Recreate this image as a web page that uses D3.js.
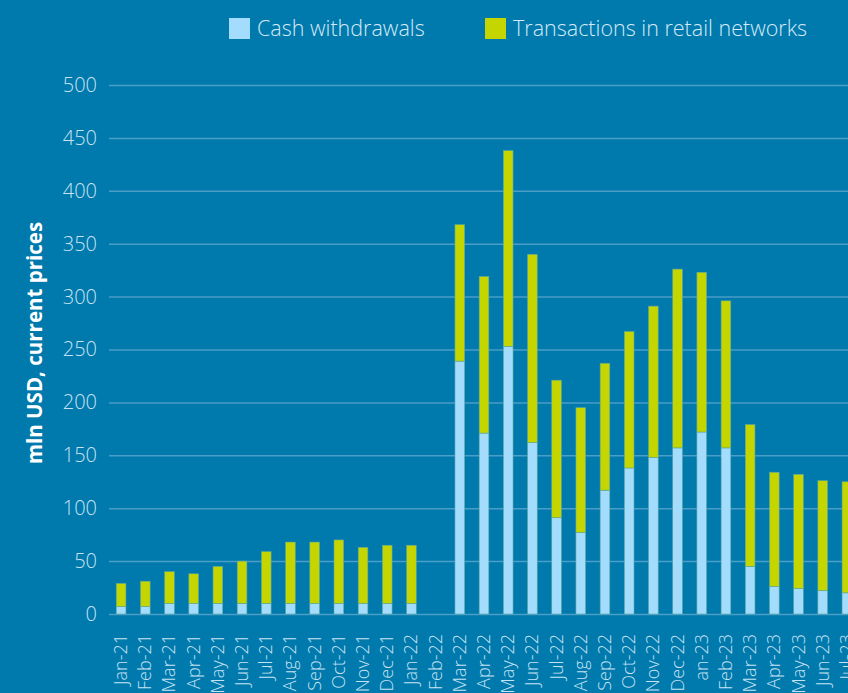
<!DOCTYPE html>
<html>
<head>
<meta charset="utf-8">
<script src="https://cdn.jsdelivr.net/npm/d3@7"></script>
<style>
  body { margin: 0; background: #0079ad; overflow: hidden; }
  svg { display: block; font-family: 'Open Sans', sans-serif; }
</style>
</head>
<body>
<svg width="848" height="693"></svg>
<script>

let months = ['Jan-21','Feb-21','Mar-21','Apr-21','May-21','Jun-21','Jul-21','Aug-21','Sep-21','Oct-21','Nov-21','Dec-21',
              'Jan-22','Feb-22','Mar-22','Apr-22','May-22','Jun-22','Jul-22','Aug-22','Sep-22','Oct-22','Nov-22','Dec-22',
              'an-23','Feb-23','Mar-23','Apr-23','May-23','Jun-23','Jul-23'];

let cash = [7, 7, 10, 10, 10, 10, 10, 10, 10, 10, 10, 10,
            10, 0, 239, 171, 253, 162, 91, 77, 117, 138, 148, 157,
            172, 157, 45, 26, 24, 22, 20];

let retail = [22, 24, 30, 28, 35, 40, 49, 58, 58, 60, 53, 55,
              55, 0, 129, 148, 185, 178, 130, 118, 120, 129, 143, 169,
              151, 139, 134, 108, 108, 104, 105];

let yTicks = [0, 50, 100, 150, 200, 250, 300, 350, 400, 450, 500];

let seriesNames = ['Cash withdrawals', 'Transactions in retail networks'];
let colors = ['#a3dcfd', '#c5d500'];

let data = months.map(function(m, i) {
  return { month: m, cash: cash[i], retail: retail[i] };
});

let svg = d3.select('svg');

let xScale = d3.scaleBand()
               .domain(months)
               .range([109, 859])
               .paddingInner(0.6)
               .paddingOuter(0.3);

let yScale = d3.scaleLinear()
               .domain([0, 500])
               .range([614, 85]);

// grid + y labels
let yAxis = d3.axisLeft(yScale)
              .tickValues(yTicks)
              .tickSize(-(859 - 109))
              .tickPadding(12);

let yAxisG = svg.append('g')
                .attr('transform', 'translate(109,0)')
                .call(yAxis)
                .attr('font-family', null)
                .attr('font-size', null);

yAxisG.select('.domain').remove();
yAxisG.selectAll('.tick line')
      .attr('stroke', '#4a9ec8')
      .attr('stroke-width', 1.5);
yAxisG.selectAll('.tick text')
      .attr('fill', '#c6e3f3')
      .attr('font-size', 20)
      .attr('font-weight', 300);

// bars
let stack = d3.stack().keys(['cash', 'retail']);
let layers = stack(data);

svg.selectAll('g.layer')
   .data(layers)
   .join('g')
   .attr('class', 'layer')
   .attr('fill', function(d, i) { return colors[i]; })
   .selectAll('rect')
   .data(function(d) { return d; })
   .join('rect')
   .attr('x', function(d) { return xScale(d.data.month); })
   .attr('y', function(d) { return yScale(d[1]); })
   .attr('width', xScale.bandwidth())
   .attr('height', function(d) { return yScale(d[0]) - yScale(d[1]); })
   .attr('stroke', '#5aa7a0')
   .attr('stroke-width', 0.6)
   .attr('stroke-opacity', function(d) { return d[1] > d[0] ? 1 : 0; });

// x labels
let xAxis = d3.axisBottom(xScale)
              .tickSize(0)
              .tickPadding(0);

let xAxisG = svg.append('g')
                .attr('transform', 'translate(0,614)')
                .call(xAxis)
                .attr('font-family', null)
                .attr('font-size', null);

xAxisG.select('.domain').remove();
xAxisG.selectAll('.tick text')
      .attr('fill', '#c6e3f3')
      .attr('font-size', 18)
      .attr('font-weight', 300)
      .attr('text-anchor', 'end')
      .attr('dy', null)
      .attr('transform', 'translate(6,20) rotate(-90)');

// y title
svg.append('text')
   .attr('transform', 'translate(42,343) rotate(-90)')
   .attr('text-anchor', 'middle')
   .attr('fill', '#ffffff')
   .attr('font-size', 20.5)
   .attr('font-weight', 700)
   .text('mln USD, current prices');

// legend
let legendX = [229, 485];
let legend = svg.selectAll('g.legend')
                .data(seriesNames)
                .join('g')
                .attr('class', 'legend')
                .attr('transform', function(d, i) { return 'translate(' + legendX[i] + ',18)'; });

legend.append('rect')
      .attr('width', 21)
      .attr('height', 21)
      .attr('fill', function(d, i) { return colors[i]; });

legend.append('text')
      .attr('x', 28)
      .attr('y', 18)
      .attr('fill', '#d4eaf6')
      .attr('font-size', 21.5)
      .attr('font-weight', 300)
      .text(function(d) { return d; });

</script>
</body>
</html>
